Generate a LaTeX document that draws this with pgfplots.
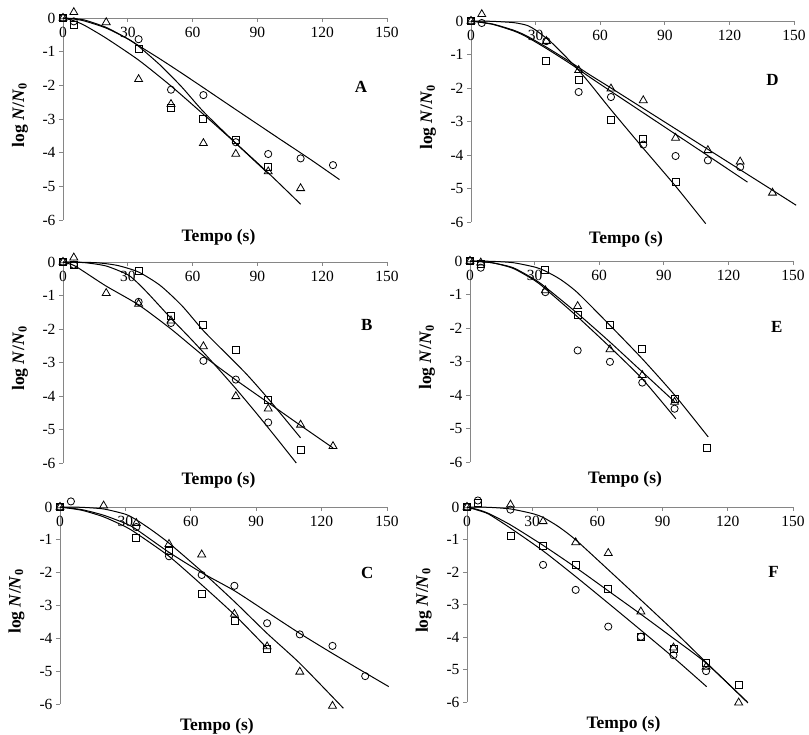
\documentclass[border=0pt]{standalone}
\usepackage{pgfplots}
\pgfplotsset{compat=1.18}
\usepackage{fontspec}
\setmainfont{Liberation Serif}
\definecolor{axgray}{RGB}{134,134,134}
\newcommand\tickfont{\fontsize{15.5}{17}\selectfont}
\newcommand\labfont{\fontsize{17.5}{20}\selectfont\bfseries}
\newcommand\letfont{\fontsize{17}{19}\selectfont\bfseries}

\pgfplotsset{
  panel/.style={
    scale only axis, anchor=north west,
    xmin=0, xmax=150, ymin=-6, ymax=0,
    axis x line=top, axis y line=left,
    axis line style={-, draw=axgray, line width=0.8pt},
    x axis line style={-}, y axis line style={-},
    xtick={0,30,60,90,120,150}, ytick={-6,-5,-4,-3,-2,-1,0},
    xticklabels={0,30,60,90,120,150},
    yticklabels={-6,-5,-4,-3,-2,-1,0},
    tick style={draw=axgray, line width=0.8pt},
    tick align=outside, major tick length=4pt,
    xtick style={yshift=-4pt},
    xticklabel shift=-10pt,
    xticklabel style={anchor=north, font=\tickfont},
    yticklabel style={font=\tickfont},
    xlabel={Tempo (s)},
    ylabel={log \textit{N}/\textit{N}\textsubscript{0}},
    xlabel style={at={(axis description cs:0.48,0)}, anchor=center, yshift=-17pt, font=\labfont},
    ylabel style={at={(axis description cs:-0.133,0.52)}, anchor=center, rotate=0, font=\labfont},
    clip=false,
  },
  circ/.style={only marks, mark=o, mark size=3.6pt, mark options={black, line width=0.8pt}},
  sq/.style={only marks, mark=square, mark size=3.5pt, mark options={black, line width=0.8pt}},
  tri/.style={only marks, mark=triangle, mark size=4.6pt, mark options={black, line width=0.8pt}},
  fit/.style={black, line width=1pt, no marks, smooth, tension=0.4},
}

\begin{document}
\begin{tikzpicture}
\useasboundingbox (0,0) rectangle (809pt,-735pt);

% ---------------- A ----------------
\begin{axis}[panel, at={(63pt,-18pt)}, width=324pt, height=202pt]
\addplot[fit] coordinates {(0,0)(5,-0.03)(10,-0.09)(20,-0.3)(30,-0.62)(35,-0.82)(45,-1.22)(55,-1.64)(65,-2.07)(80,-2.72)(100,-3.58)(115,-4.22)(128,-4.8)};
\addplot[fit] coordinates {(0,0)(5,-0.02)(10,-0.06)(20,-0.28)(30,-0.62)(35,-0.84)(45,-1.4)(55,-2.05)(65,-2.78)(80,-3.72)(95,-4.62)};
\addplot[fit] coordinates {(0,0)(5,-0.08)(10,-0.22)(20,-0.6)(35,-1.25)(50,-2.02)(65,-2.86)(80,-3.72)(95,-4.6)(110,-5.53)};
\addplot[circ] coordinates {(0,0)(5,-0.1)(35,-0.63)(50,-2.13)(65,-2.29)(80,-3.69)(95,-4.04)(110,-4.17)(125,-4.37)};
\addplot[sq] coordinates {(0,0)(5,-0.2)(35,-0.92)(50,-2.68)(65,-3.0)(80,-3.62)(95,-4.42)};
\addplot[tri] coordinates {(0,0)(5,0.17)(20,-0.13)(35,-1.82)(50,-2.56)(65,-3.72)(80,-4.04)(95,-4.56)(110,-5.06)};
\node[font=\letfont] at (axis cs:138,-2.05) {A};
\end{axis}

% ---------------- D ----------------
\begin{axis}[panel, at={(471pt,-21pt)}, width=323pt, height=201pt]
\addplot[fit] coordinates {(0,0)(10,-0.01)(20,-0.05)(26,-0.13)(30,-0.27)(37,-0.62)(43,-1.0)(49,-1.4)(55,-1.85)(65,-2.65)(80,-3.8)(95,-4.93)(109,-6.05)};
\addplot[fit] coordinates {(0,0)(10,-0.1)(20,-0.3)(26,-0.48)(35,-0.82)(46,-1.27)(55,-1.67)(65,-2.1)(80,-2.74)(95,-3.38)(110,-4.02)(128.4,-4.81)};
\addplot[fit] coordinates {(0,0)(10,-0.09)(20,-0.28)(26,-0.45)(35,-0.78)(46,-1.22)(55,-1.6)(65,-2.0)(80,-2.61)(95,-3.22)(110,-3.83)(125,-4.44)(140,-5.05)(151,-5.5)};
\addplot[circ] coordinates {(0,0)(5,-0.06)(35,-0.6)(50,-2.12)(65,-2.27)(80,-3.69)(95,-4.03)(110,-4.16)(125,-4.36)};
\addplot[sq] coordinates {(0,0)(35,-1.2)(50,-1.77)(65,-2.95)(80,-3.51)(95,-4.81)};
\addplot[tri] coordinates {(0,0)(5,0.2)(35,-0.6)(50,-1.47)(65,-2.02)(80,-2.37)(95,-3.49)(110,-3.86)(125,-4.2)(140,-5.13)};
\node[font=\letfont] at (axis cs:140,-1.77) {D};
\end{axis}

% ---------------- B ----------------
\begin{axis}[panel, at={(63pt,-262pt)}, width=324pt, height=201pt]
\addplot[fit] coordinates {(0,0)(5,-0.1)(10,-0.3)(20,-0.72)(35,-1.28)(50,-2.0)(65,-2.8)(80,-3.52)(95,-4.2)(110,-4.88)(125,-5.55)};
\addplot[fit] coordinates {(0,0)(10,-0.02)(20,-0.12)(30,-0.38)(35,-0.65)(40,-0.98)(50,-1.68)(60,-2.35)(70,-3.05)(80,-3.78)(90,-4.55)(100,-5.35)(108,-6.0)};
\addplot[fit] coordinates {(0,0)(15,-0.02)(25,-0.1)(35,-0.3)(45,-0.7)(55,-1.3)(65,-2.05)(75,-2.7)(85,-3.35)(95,-4.08)(110,-5.25)};
\addplot[circ] coordinates {(0,0)(5,-0.08)(35,-1.19)(50,-1.82)(65,-2.95)(80,-3.51)(95,-4.79)};
\addplot[sq] coordinates {(0,0)(5,-0.1)(35,-0.26)(50,-1.6)(65,-1.89)(80,-2.62)(95,-4.13)(110,-5.6)};
\addplot[tri] coordinates {(0,0)(5,0.13)(20,-0.93)(35,-1.25)(50,-1.75)(65,-2.52)(80,-4.01)(95,-4.38)(110,-4.86)(125,-5.5)};
\node[font=\letfont] at (axis cs:140.7,-1.88) {B};
\end{axis}

% ---------------- E ----------------
\begin{axis}[panel, at={(470pt,-261pt)}, width=323pt, height=201pt]
\addplot[fit] coordinates {(0,0)(10,-0.01)(20,-0.05)(30,-0.18)(35,-0.3)(42,-0.55)(50,-0.95)(65,-1.92)(80,-2.92)(95,-4.0)(110.6,-5.25)};
\addplot[fit] coordinates {(0,0)(10,-0.05)(20,-0.2)(30,-0.55)(35,-0.78)(50,-1.57)(65,-2.42)(80,-3.31)(95,-4.2)};
\addplot[fit] coordinates {(0,0)(10,-0.05)(20,-0.22)(30,-0.58)(35,-0.83)(50,-1.67)(65,-2.57)(80,-3.52)(95.6,-4.71)};
\addplot[circ] coordinates {(0,0)(5,-0.2)(35,-0.93)(50,-2.67)(65,-3.01)(80,-3.63)(95,-4.41)};
\addplot[sq] coordinates {(0,0)(5,-0.08)(35,-0.26)(50,-1.6)(65,-1.9)(80,-2.62)(95,-4.13)(110,-5.58)};
\addplot[tri] coordinates {(0,0)(5,-0.05)(35,-0.88)(50,-1.35)(65,-2.64)(80,-3.41)(95,-4.21)};
\node[font=\letfont] at (axis cs:142.5,-1.97) {E};
\end{axis}

% ---------------- C ----------------
\begin{axis}[panel, at={(60pt,-507pt)}, width=327pt, height=197pt, xlabel style={yshift=-5pt}]
\addplot[fit] coordinates {(0,0)(10,-0.01)(20,-0.06)(30,-0.22)(35,-0.39)(42,-0.7)(50,-1.1)(65,-1.96)(80,-2.88)(95,-3.85)(110,-4.76)(130,-6.13)};
\addplot[fit] coordinates {(0,0)(10,-0.08)(20,-0.25)(30,-0.5)(35,-0.68)(50,-1.38)(65,-2.0)(80,-2.55)(95,-3.2)(110,-3.85)(125,-4.46)(140,-5.05)(150.8,-5.47)};
\addplot[fit] coordinates {(0,0)(10,-0.1)(20,-0.3)(30,-0.6)(35,-0.8)(50,-1.5)(65,-2.37)(80,-3.28)(95,-4.3)};
\addplot[circ] coordinates {(0,0)(5,0.17)(35,-0.61)(50,-1.5)(65,-2.07)(80,-2.4)(95,-3.54)(110,-3.88)(125,-4.23)(140,-5.15)};
\addplot[sq] coordinates {(0,0)(35,-0.95)(50,-1.35)(65,-2.66)(80,-3.47)(95,-4.33)};
\addplot[tri] coordinates {(0,0)(20,0.04)(35,-0.49)(50,-1.13)(65,-1.45)(80,-3.26)(95,-4.25)(110,-5.02)(125,-6.06)};
\node[font=\letfont] at (axis cs:141,-2.0) {C};
\end{axis}

% ---------------- F ----------------
\begin{axis}[panel, at={(467pt,-507pt)}, width=326pt, height=195pt, xlabel style={yshift=-5pt}]
\addplot[fit] coordinates {(0,0)(10,-0.01)(20,-0.06)(30,-0.2)(35,-0.32)(42,-0.6)(50,-1.01)(65,-1.93)(80,-2.86)(95,-3.8)(110,-4.78)(129.3,-6.03)};
\addplot[fit] coordinates {(0,0)(5,-0.08)(10,-0.2)(20,-0.55)(35,-1.18)(50,-1.86)(65,-2.58)(80,-3.3)(95,-4.04)(110,-4.8)(129,-6.0)};
\addplot[fit] coordinates {(0,0)(5,-0.1)(10,-0.22)(20,-0.65)(35,-1.35)(50,-2.14)(65,-2.96)(80,-3.79)(95,-4.63)(110.3,-5.53)};
\addplot[circ] coordinates {(0,0)(5,0.2)(20,-0.08)(35,-1.78)(50,-2.55)(65,-3.68)(80,-3.99)(95,-4.56)(110,-5.05)};
\addplot[sq] coordinates {(0,0)(5,0.12)(20,-0.9)(35,-1.21)(50,-1.78)(65,-2.52)(80,-3.99)(95,-4.38)(110,-4.81)(125,-5.48)};
\addplot[tri] coordinates {(0,0)(20,0.07)(35,-0.44)(50,-1.09)(65,-1.42)(80,-3.22)(95,-4.33)(110,-4.92)(125,-6.02)};
\node[font=\letfont] at (axis cs:141,-1.99) {F};
\end{axis}
\end{tikzpicture}
\end{document}
